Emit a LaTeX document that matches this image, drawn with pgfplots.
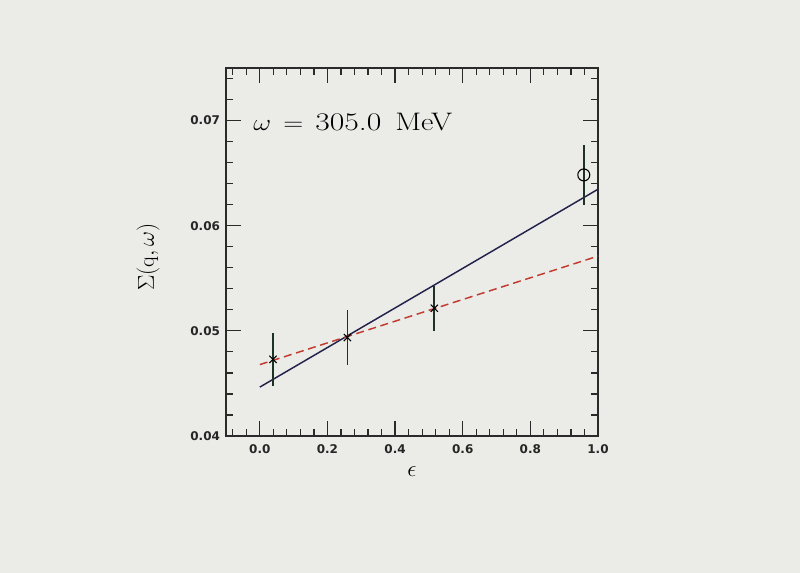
\documentclass[border=0pt]{standalone}
\usepackage{pgfplots}
\pgfplotsset{compat=1.18}
\usepackage{graphicx}
\usepackage{fontspec}
\setsansfont{DejaVu Sans}
\definecolor{bg}{HTML}{EBEBE8}
\definecolor{frame}{HTML}{2A2A2A}
\definecolor{navy}{HTML}{22224A}
\definecolor{brick}{HTML}{C23B2E}
\definecolor{ebar}{HTML}{1E3326}
\begin{document}
\begin{tikzpicture}[x=0.75pt,y=0.75pt]
\fill[bg] (-226,-137) rectangle (574,436);
\useasboundingbox (-226,-137) rectangle (574,436);
\begin{axis}[
  at={(0,0)}, anchor=south west,
  scale only axis, width=279pt, height=276pt,
  xmin=-0.1, xmax=1.0, ymin=0.04, ymax=0.075,
  axis line style={frame, line width=1.1pt},
  xtick={0,0.2,0.4,0.6,0.8,1.0},
  ytick={0.04,0.05,0.06,0.07},
  minor xtick={-0.08,-0.04,0.04,0.08,0.12,0.16,0.24,0.28,0.32,0.36,0.44,0.48,0.52,0.56,0.64,0.68,0.72,0.76,0.84,0.88,0.92,0.96},
  minor ytick={0.042,0.044,0.046,0.048,0.052,0.054,0.056,0.058,0.062,0.064,0.066,0.068,0.072,0.074},
  tick align=inside, major tick length=11pt, minor tick length=5pt,
  every tick/.style={frame, line width=0.9pt},
  xtick pos=both, ytick pos=both,
  /pgf/number format/assume math mode=true,
  tick label style={font=\sffamily\bfseries\fontsize{9}{11}\selectfont, text=black!85},
  xticklabel style={/pgf/number format/fixed, /pgf/number format/fixed zerofill, /pgf/number format/precision=1, yshift=-3pt},
  yticklabel style={/pgf/number format/fixed, /pgf/number format/fixed zerofill, /pgf/number format/precision=2, xshift=-1pt},
  scaled y ticks=false,
  clip=false,
]
\addplot[navy, line width=1.1pt] coordinates {(0,0.04465) (1.0,0.06347)};
\addplot[brick, line width=1.1pt, dash pattern=on 6pt off 3.5pt] coordinates {(0,0.04679) (1.0,0.05711)};
\addplot[only marks, mark=x, mark options={black, line width=0.8pt, mark size=3.8pt},
  error bars/.cd, y dir=both, y explicit, error mark=none,
  error bar style={ebar, line width=1.3pt}]
  coordinates {
  (0.039,0.04729) +- (0,0.00255)
  (0.259,0.04936) +- (0,0.00259)
  (0.516,0.05215) +- (0,0.00215)
  };
\addplot[only marks, mark=o, mark options={black, line width=0.8pt, mark size=4.5pt},
  error bars/.cd, y dir=both, y explicit, error mark=none,
  error bar style={ebar, line width=1.3pt}]
  coordinates {
  (0.958,0.06483) +- (0,0.00287)
  };
\end{axis}
\begin{scope}[every node/.style={anchor=base west, inner sep=0pt, font=\fontsize{19}{22}\selectfont}]
\node at (27,305) {\scalebox{1.2}[1]{$\omega$}};
\node at (57,305) {\scalebox{1.2}[1]{$=$}};
\node at (89,305) {\scalebox{1.25}[1]{305.0}};
\node at (169,305) {\scalebox{1.2}[1]{MeV}};
\end{scope}
\node[rotate=90] at (-78,179) {\fontsize{16.5}{18}\selectfont$\Sigma(\mathrm{q},\omega)$};
\node at (186,-36) {\fontsize{16}{18}\selectfont$\epsilon$};
\end{tikzpicture}
\end{document}
